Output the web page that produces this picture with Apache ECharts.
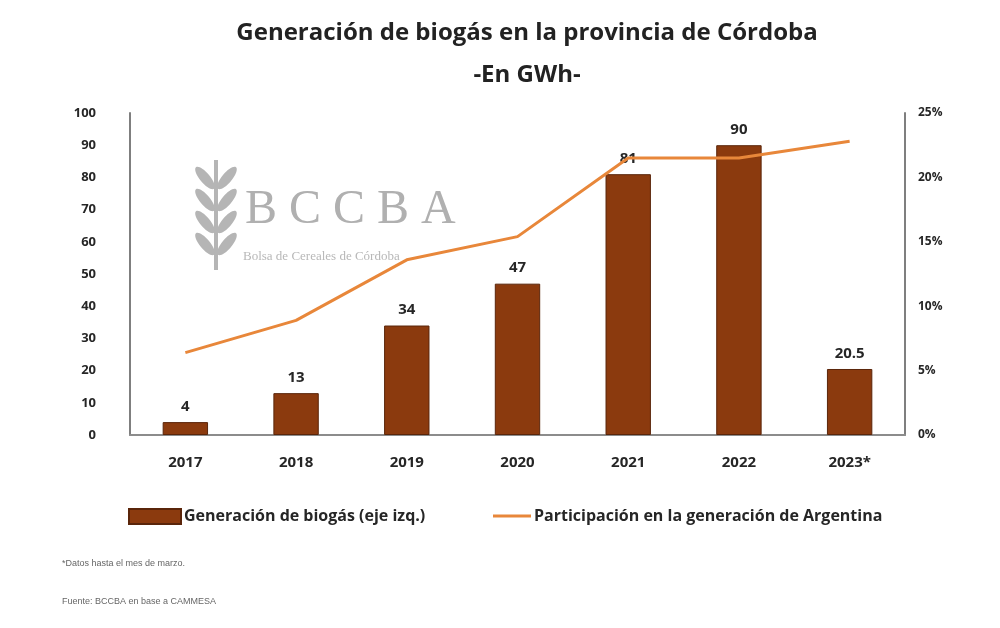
<!DOCTYPE html>
<html>
<head>
<meta charset="utf-8">
<script src="https://cdn.jsdelivr.net/npm/echarts@6/dist/echarts.min.js"></script>
<style>html,body{margin:0;padding:0;background:#fff}#c{width:1000px;height:628px}</style>
</head>
<body>
<div id="c"></div>
<script>
const categories = ['2017', '2018', '2019', '2020', '2021', '2022', '2023*'];
const biogas = [4, 13, 34, 47, 81, 90, 20.5];
const share = [6.4, 8.9, 13.6, 15.4, 21.5, 21.5, 22.8];
const leftTicks = [0, 100, 10];
const rightTicks = [0, 25, 5];

const chart = echarts.init(document.getElementById('c'));
const font = '"Open Sans", "Noto Sans", sans-serif';
const leaves = [];
for (let i = 0; i < 4; i++) {
  const y = 178 + i * 22;
  leaves.push({type:'ellipse', shape:{cx:205, cy:y, rx:5, ry:14}, rotation:0.7, originX:205, originY:y, style:{fill:'#b5b5b5'}, silent:true});
  leaves.push({type:'ellipse', shape:{cx:227, cy:y, rx:5, ry:14}, rotation:-0.7, originX:227, originY:y, style:{fill:'#b5b5b5'}, silent:true});
}
chart.setOption({
  backgroundColor: '#fff',
  animation: false,
  title: {
    text: 'Generación de biogás en la provincia de Córdoba\n-En GWh-',
    left: 522, top: 7, textAlign: 'center',
    textStyle: {fontFamily: font, fontWeight: 'bold', fontSize: 24, color: '#222', lineHeight: 42}
  },
  graphic: [
    {type:'rect', shape:{x:214, y:160, width:4, height:110}, style:{fill:'#b5b5b5'}, silent:true},
    ...leaves,
    {type:'text', left:245, top:186, silent:true,
     style:{text:'B C C B A', font:'48px "Liberation Serif", "DejaVu Serif", serif', fill:'#b0b0b0'}},
    {type:'text', left:243, top:250, silent:true,
     style:{text:'Bolsa de Cereales de Córdoba', font:'13px "Liberation Serif", serif', fill:'#b8b8b8'}},
    {type:'text', left:62, top:559, style:{text:'*Datos hasta el mes de marzo.', font:'9px "Liberation Sans", sans-serif', fill:'#666'}},
    {type:'text', left:62, top:597, style:{text:'Fuente: BCCBA en base a CAMMESA', font:'9px "Liberation Sans", sans-serif', fill:'#666'}}
  ],
  legend: [
    {data:['Generación de biogás (eje izq.)'], left:123, top:503, icon:'rect', itemWidth:52, itemHeight:15, itemGap:4,
     textStyle:{fontFamily:font, fontWeight:'bold', fontSize:16, color:'#262626', padding:[0,0,0,-2]}},
    {data:['Participación en la generación de Argentina'], left:488, top:503, icon:'rect', itemWidth:38, itemHeight:3,
     textStyle:{fontFamily:font, fontWeight:'bold', fontSize:16, color:'#262626', padding:[0,0,0,-2]}}
  ],
  grid: {left: 130, right: 95, top: 113, bottom: 193},
  xAxis: {
    type: 'category', data: categories,
    axisLine: {lineStyle: {color: '#8c8c8c', width: 2}},
    axisTick: {show: false},
    axisLabel: {fontFamily: font, fontWeight: 'bold', fontSize: 15, color: '#262626', margin: 20}
  },
  yAxis: [
    {type: 'value', min: leftTicks[0], max: leftTicks[1], interval: leftTicks[2],
     axisLine: {show: true, lineStyle: {color: '#7f7f7f', width: 2}},
     axisTick: {show: false}, splitLine: {show: false},
     axisLabel: {fontFamily: font, fontWeight: 'bold', fontSize: 13, color: '#262626', margin: 34}},
    {type: 'value', min: rightTicks[0], max: rightTicks[1], interval: rightTicks[2],
     axisLine: {show: true, lineStyle: {color: '#7f7f7f', width: 2}},
     axisTick: {show: false}, splitLine: {show: false},
     axisLabel: {fontFamily: font, fontWeight: 'bold', fontSize: 12, color: '#262626', margin: 13, formatter: '{value}%'}}
  ],
  series: [
    {name: 'Generación de biogás (eje izq.)', type: 'bar', data: biogas, barWidth: '41%',
     itemStyle: {color: '#8B3A0E', borderColor: '#5a250a', borderWidth: 1},
     label: {show: true, position: 'top', distance: 8, fontFamily: font, fontWeight: 'bold', fontSize: 15, color: '#262626'}},
    {name: 'Participación en la generación de Argentina', type: 'line', yAxisIndex: 1, data: share,
     symbol: 'none', lineStyle: {color: '#E8873A', width: 3}, itemStyle: {color: '#E8873A'}}
  ]
});
</script>
</body>
</html>
